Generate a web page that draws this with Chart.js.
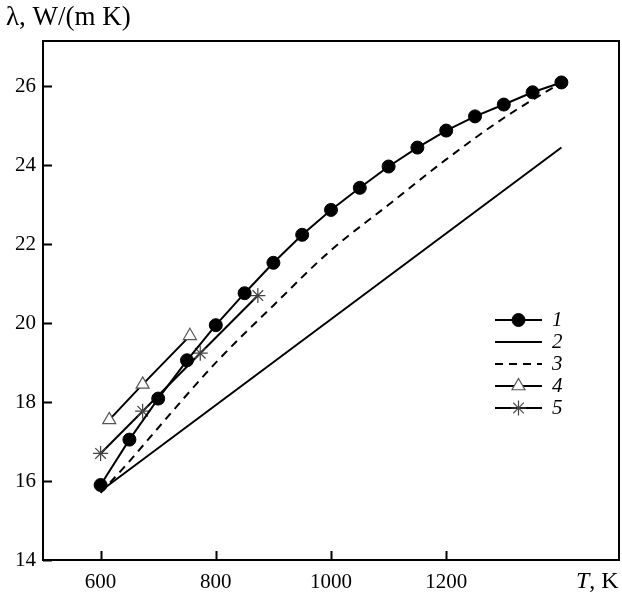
<!DOCTYPE html>
<html>
<head>
<meta charset="utf-8">
<script src="https://cdn.jsdelivr.net/npm/chart.js@4.4.1/dist/chart.umd.min.js"></script>
<style>
  body { margin: 0; background: #fff; }
  canvas { display: block; }
</style>
</head>
<body>
<canvas id="chart" width="622" height="597"></canvas>
<script>
// thermal conductivity vs temperature, five curves
const temps1 = [600, 650, 700, 750, 800, 850, 900, 950, 1000, 1050, 1100, 1150, 1200, 1250, 1300, 1350, 1400];
const lambda1 = [15.9, 17.05, 18.09, 19.06, 19.95, 20.76, 21.53, 22.24, 22.87, 23.43, 23.97, 24.45, 24.88, 25.24, 25.54, 25.85, 26.1];
const temps2 = [600, 1400];
const lambda2 = [15.75, 24.45];
const temps3 = [600, 650, 700, 800, 900, 1000, 1100, 1200, 1300, 1400];
const lambda3 = [15.7, 16.5, 17.35, 19.0, 20.45, 21.85, 23.0, 24.15, 25.2, 26.1];
const temps4 = [615, 673, 755];
const lambda4 = [17.55, 18.45, 19.68];
const temps5 = [600, 673, 773, 873];
const lambda5 = [16.7, 17.77, 19.24, 20.7];

const xTicks = [600, 800, 1000, 1200];
const yTicks = [14, 16, 18, 20, 22, 24, 26];
const seriesNames = ['1', '2', '3', '4', '5'];

const serif = "'Liberation Serif', 'Times New Roman', serif";

function pts(xs, ys) {
    return xs.map(function(x, i) { return {x: x, y: ys[i]}; });
}

// frame, inner ticks, axis captions and legend
const decor = {
    id: 'decor',
    afterDraw: function(chart) {
        const ctx = chart.ctx;
        const a = chart.chartArea;
        const xs = chart.scales.x, ys = chart.scales.y;
        ctx.save();
        ctx.strokeStyle = '#000';
        ctx.lineWidth = 2;
        ctx.strokeRect(a.left, a.top, a.right - a.left, a.bottom - a.top);
        ctx.beginPath();
        xTicks.forEach(function(v) {
            const px = Math.round(xs.getPixelForValue(v)) + 0.5;
            ctx.moveTo(px, a.bottom);
            ctx.lineTo(px, a.bottom - 9);
        });
        yTicks.forEach(function(v) {
            const py = Math.round(ys.getPixelForValue(v)) + 0.5;
            ctx.moveTo(a.left, py);
            ctx.lineTo(a.left + 9, py);
        });
        ctx.stroke();

        ctx.fillStyle = '#000';
        ctx.textBaseline = 'middle';
        ctx.textAlign = 'left';
        ctx.font = '27px ' + serif;
        ctx.fillText('\u03bb, W/(m K)', 6, 18);
        ctx.font = 'italic 24px ' + serif;
        ctx.fillText('T', 576, 582);
        const tw = ctx.measureText('T').width;
        ctx.font = '24px ' + serif;
        ctx.fillText(', K', 576 + tw, 582);

        // legend
        chart.data.datasets.forEach(function(ds, i) {
            const y = 320 + 22 * i;
            ctx.save();
            ctx.strokeStyle = '#000';
            ctx.lineWidth = 2;
            ctx.setLineDash(ds.borderDash || []);
            ctx.beginPath();
            ctx.moveTo(495, y);
            ctx.lineTo(542, y);
            ctx.stroke();
            ctx.restore();
            if (ds.pointRadius > 0) {
                ctx.save();
                ctx.fillStyle = ds.pointBackgroundColor;
                ctx.strokeStyle = ds.pointBorderColor;
                ctx.lineWidth = ds.pointBorderWidth;
                Chart.helpers.drawPoint(ctx, {pointStyle: ds.pointStyle, radius: ds.pointRadius, rotation: 0, borderWidth: ds.pointBorderWidth}, 518.5, y);
                ctx.restore();
            }
            ctx.font = 'italic 21px ' + serif;
            ctx.fillStyle = '#000';
            ctx.fillText(seriesNames[i], 552, y);
        });
        ctx.restore();
    }
};

const ctx = document.getElementById('chart');
new Chart(ctx, {
    type: 'line',
    data: {
        datasets: [{
            label: seriesNames[0],
            data: pts(temps1, lambda1),
            borderColor: '#000',
            borderWidth: 2,
            pointStyle: 'circle',
            pointRadius: 6.5,
            pointBackgroundColor: '#000',
            pointBorderColor: '#000',
            pointBorderWidth: 1
        }, {
            label: seriesNames[1],
            data: pts(temps2, lambda2),
            borderColor: '#000',
            borderWidth: 2,
            pointRadius: 0
        }, {
            label: seriesNames[2],
            data: pts(temps3, lambda3),
            borderColor: '#000',
            borderWidth: 2,
            borderDash: [8, 6],
            cubicInterpolationMode: 'monotone',
            pointRadius: 0
        }, {
            label: seriesNames[3],
            data: pts(temps4, lambda4),
            borderColor: '#000',
            borderWidth: 2,
            pointStyle: 'triangle',
            pointRadius: 7.5,
            pointBackgroundColor: '#fff',
            pointBorderColor: '#555',
            pointBorderWidth: 1.2
        }, {
            label: seriesNames[4],
            data: pts(temps5, lambda5),
            borderColor: '#000',
            borderWidth: 2,
            pointStyle: 'star',
            pointRadius: 7.5,
            pointBackgroundColor: '#fff',
            pointBorderColor: '#444',
            pointBorderWidth: 1.2
        }]
    },
    options: {
        responsive: false,
        animation: false,
        layout: {
            autoPadding: false,
            padding: { top: 41, right: 3, left: 0, bottom: 0 }
        },
        plugins: {
            legend: { display: false },
            tooltip: { enabled: false }
        },
        scales: {
            x: {
                type: 'linear',
                min: 500,
                max: 1500,
                afterBuildTicks: function(scale) {
                    scale.ticks = xTicks.map(function(v) { return {value: v}; });
                },
                afterFit: function(scale) {
                    scale.height = 37;
                    scale.paddingLeft = 0;
                    scale.paddingRight = 0;
                },
                grid: { display: false, drawTicks: false },
                border: { display: false },
                ticks: {
                    color: '#000',
                    padding: 10,
                    maxRotation: 0,
                    font: { family: serif, size: 21 },
                    callback: function(v) { return String(v); }
                }
            },
            y: {
                min: 14,
                max: 27.15,
                afterBuildTicks: function(scale) {
                    scale.ticks = yTicks.map(function(v) { return {value: v}; });
                },
                afterFit: function(scale) { scale.width = 43; },
                grid: { display: false, drawTicks: false },
                border: { display: false },
                ticks: {
                    color: '#000',
                    padding: 7,
                    font: { family: serif, size: 21 },
                    callback: function(v) { return String(v); }
                }
            }
        }
    },
    plugins: [decor]
});
</script>
</body>
</html>
